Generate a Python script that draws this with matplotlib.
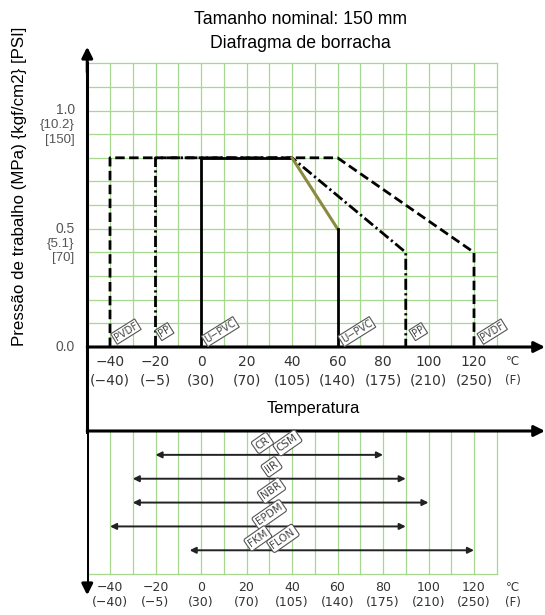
import matplotlib.pyplot as plt
from matplotlib import font_manager

# --- data ---
temp_ticks = [-40, -20, 0, 20, 40, 60, 80, 100, 120]
temp_f_labels = ['(−40)', '(−5)', '(30)', '(70)', '(105)', '(140)', '(175)', '(210)', '(250)']

pvdf_t = [-40, -40, 60, 120, 120]
pvdf_p = [0, 0.8, 0.8, 0.4, 0]
pp_t = [-20, -20, 40, 90, 90]
pp_p = [0, 0.8, 0.8, 0.4, 0]
upvc_t = [0, 0, 40, 60, 60]
upvc_p = [0, 0.8, 0.8, 0.5, 0]

y_ticks = [1.0, 0.5, 0.0]
y_kgf = ['{10.2}', '{5.1}', '']
y_psi = ['[150]', '[70]', '']

rubber_lo = [-20, -30, -30, -40, -5]
rubber_hi = [80, 90, 100, 90, 120]
rubber_names = [['CR', 'CSM'], ['IIR'], ['NBR'], ['EPDM'], ['FKM', 'FLON']]
rubber_label_t = [[27, 38], [31], [31], [30], [25, 36]]

names = {f.name for f in font_manager.fontManager.ttflist}
tick_font = 'Liberation Sans Narrow' if 'Liberation Sans Narrow' in names else 'DejaVu Sans'
plt.rcParams['font.family'] = ['Liberation Sans', 'DejaVu Sans']

green = '#a6d98f'
W, H = 545, 615
fig = plt.figure(figsize=(5.45, 6.15), dpi=100)

# pixel mapping: -50 C at x=87, 2.275 px per C; axes to x=545
x0, xpx = 87.25, 2.275
xmax = -50 + (545 - x0) / xpx

ax = fig.add_axes([x0 / W, (H - 347) / H, (545 - x0) / W, (347 - 44) / H])
ax.set_xlim(-50, xmax)
ax.set_ylim(0, (347 - 44) / 236.5)
ax.axis('off')

# grid
for t in range(-40, 131, 10):
    ax.plot([t, t], [0, 1.2], color=green, lw=0.9, zorder=1)
for k in range(1, 13):
    ax.plot([-50, 130], [k / 10, k / 10], color=green, lw=0.9, zorder=1)

# axes with arrows
ax.plot([-50, -50], [-0.36, 1.2], color='k', lw=2.2, clip_on=False, zorder=5)
ax.annotate('', xy=(-50, (347 - 44) / 236.5), xytext=(-50, 1.15),
            arrowprops=dict(arrowstyle='-|>', color='k', lw=2.2, mutation_scale=16))
ax.annotate('', xy=(xmax, 0), xytext=(-50, 0),
            arrowprops=dict(arrowstyle='-|>', color='k', lw=2.2, mutation_scale=16,
                            shrinkA=0, shrinkB=0), annotation_clip=False)

# pressure-temperature curves
ax.plot(pvdf_t, pvdf_p, color='k', lw=2, linestyle=(0, (3.4, 1.6)), zorder=3)
ax.plot(pp_t, pp_p, color='k', lw=2, linestyle=(0, (4, 1.2, 0.8, 1.2)), zorder=3)
ax.plot(upvc_t[:3], upvc_p[:3], color='k', lw=2, zorder=4)
ax.plot(upvc_t[2:4], upvc_p[2:4], color='#8c8a40', lw=2.2, zorder=4)
ax.plot(upvc_t[3:], upvc_p[3:], color='k', lw=2, zorder=4)

box = dict(boxstyle='square,pad=0.12', fc='white', ec='#555555', lw=0.8)
for t, s in [(-33, 'PVDF'), (-16, 'PP'), (8.5, 'U−PVC'),
             (68.5, 'U−PVC'), (95.5, 'PP'), (128, 'PVDF')]:
    ax.text(t, 0.065, s, rotation=32, ha='center', va='center', fontsize=7,
            color='#444444', family=tick_font, bbox=box, zorder=6, clip_on=False)

# x tick labels
for t, f in zip(temp_ticks, temp_f_labels):
    ax.text(t, -0.063, '−' + str(-t) if t < 0 else str(t), ha='center', va='center',
            fontsize=10, family=tick_font, color='#333333')
    ax.text(t, -0.14, f, ha='center', va='center', fontsize=10, family=tick_font, color='#333333')
ax.text(137, -0.063, '℃', ha='center', va='center', fontsize=8.5, family='DejaVu Sans', color='#333333')
ax.text(137, -0.14, '(F)', ha='center', va='center', fontsize=8.5, family=tick_font, color='#333333')

# y tick labels
for v, k, p in zip(y_ticks, y_kgf, y_psi):
    ax.text(-55.5, v, f'{v:.1f}', ha='right', va='center', fontsize=10, color='#555555', clip_on=False)
    ax.text(-55.5, v - 0.063, k, ha='right', va='center', fontsize=9.5, color='#555555', clip_on=False)
    ax.text(-55.5, v - 0.125, p, ha='right', va='center', fontsize=9.5, color='#555555', clip_on=False)

fig.text(300 / W, 1 - 20 / H, 'Tamanho nominal: 150 mm', ha='center', va='center', fontsize=12.7)
fig.text(300 / W, 1 - 43 / H, 'Diafragma de borracha', ha='center', va='center', fontsize=12.7)
fig.text(20 / W, 1 - 186 / H, 'Pressão de trabalho (MPa) {kgf/cm2} [PSI]', rotation=90,
         ha='center', va='center', fontsize=12.2)
fig.text(313 / W, 1 - 409 / H, 'Temperatura', ha='center', va='center', fontsize=11.9)

# --- bottom: rubber temperature ranges ---
bx = fig.add_axes([x0 / W, (H - 598) / H, (545 - x0) / W, (598 - 431) / H])
bx.set_xlim(-50, xmax)
bx.set_ylim(7, 0)
bx.axis('off')

for t in range(-40, 131, 10):
    bx.plot([t, t], [0, 6], color=green, lw=0.9, zorder=1)
bx.plot([-50, 130], [6, 6], color=green, lw=0.9, zorder=1)

bx.plot([-50, -50], [0, 6.5], color='k', lw=2.2, zorder=5)
bx.annotate('', xy=(-50, 7), xytext=(-50, 6.4),
            arrowprops=dict(arrowstyle='-|>', color='k', lw=2.2, mutation_scale=16))
bx.annotate('', xy=(xmax, 0), xytext=(-50, 0),
            arrowprops=dict(arrowstyle='-|>', color='k', lw=2.2, mutation_scale=16,
                            shrinkA=0, shrinkB=0), annotation_clip=False)

rbox = dict(boxstyle='round,pad=0.2', fc='white', ec='#555555', lw=0.8)
for i, (lo, hi) in enumerate(zip(rubber_lo, rubber_hi)):
    row = i + 1
    bx.annotate('', xy=(hi, row), xytext=(lo, row),
                arrowprops=dict(arrowstyle='<|-|>', color='#222222', lw=1.4,
                                mutation_scale=9, shrinkA=0, shrinkB=0))
    for s, t in zip(rubber_names[i], rubber_label_t[i]):
        bx.text(t, row - 0.5, s, rotation=35, ha='center', va='center', fontsize=7.5,
                color='#444444', family=tick_font, bbox=rbox, zorder=6)

for t, f in zip(temp_ticks, temp_f_labels):
    bx.text(t, 6.57, '−' + str(-t) if t < 0 else str(t), ha='center', va='center',
            fontsize=9, family=tick_font, color='#333333', clip_on=False)
    bx.text(t, 7.17, f, ha='center', va='center', fontsize=9, family=tick_font,
            color='#333333', clip_on=False)
bx.text(137, 6.57, '℃', ha='center', va='center', fontsize=8.5, family='DejaVu Sans', color='#333333')
bx.text(137, 7.17, '(F)', ha='center', va='center', fontsize=8.5, family=tick_font,
        color='#333333', clip_on=False)

fig.savefig('out.png', dpi=100)
